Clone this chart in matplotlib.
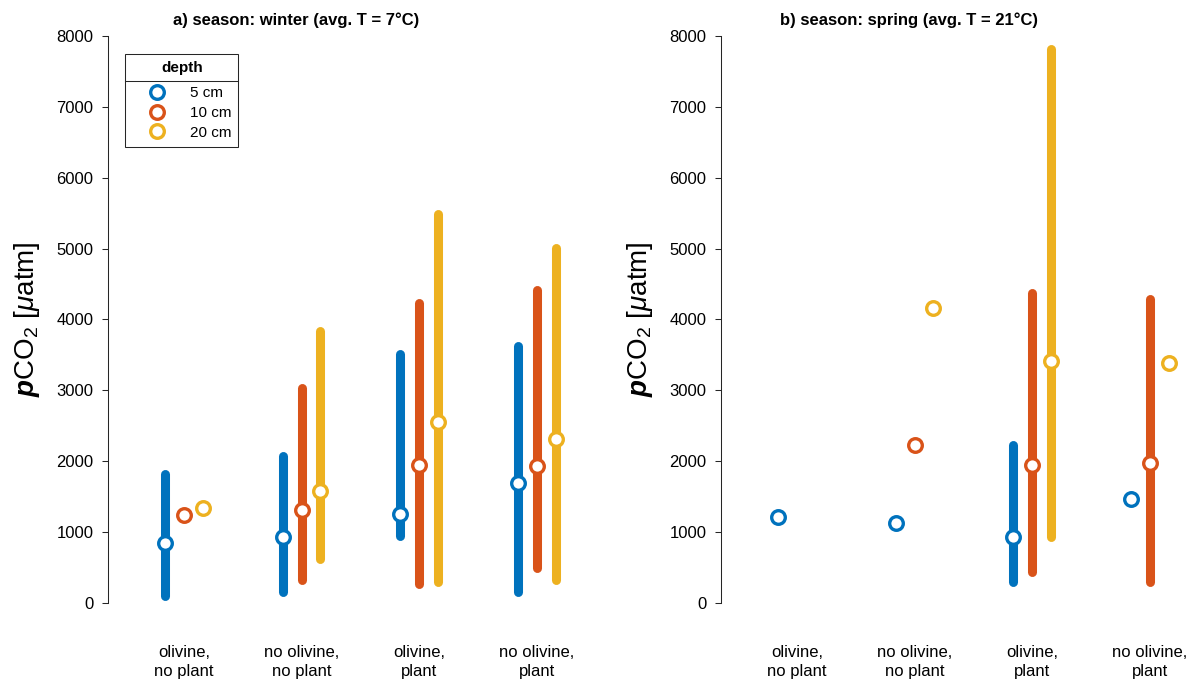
import numpy as np
import matplotlib
matplotlib.use('Agg')
import matplotlib.pyplot as plt
from matplotlib.lines import Line2D

plt.rcParams['font.family'] = ['Liberation Sans', 'DejaVu Sans']
plt.rcParams['mathtext.fontset'] = 'custom'
plt.rcParams['mathtext.rm'] = 'Liberation Sans'
plt.rcParams['mathtext.it'] = 'Liberation Sans:italic'
plt.rcParams['mathtext.bf'] = 'Liberation Sans:italic:bold'

nan = np.nan

treatments = ['olivine,\nno plant', 'no olivine,\nno plant', 'olivine,\nplant', 'no olivine,\nplant']
depths = ['5 cm', '10 cm', '20 cm']
colors = ['#0072BD', '#D95319', '#EDB120']

# winter: rows are depths (5, 10, 20 cm), columns are treatments
winter_low = [[95, 150, 945, 150],
              [nan, 325, 270, 490],
              [nan, 615, 300, 325]]
winter_high = [[1815, 2075, 3510, 3620],
               [nan, 3035, 4230, 4420],
               [nan, 3840, 5485, 5005]]
winter_median = [[840, 925, 1255, 1700],
                 [1235, 1315, 1950, 1940],
                 [1340, 1580, 2560, 2310]]

# spring
spring_low = [[nan, nan, 300, nan],
              [nan, nan, 440, 290],
              [nan, nan, 930, nan]]
spring_high = [[nan, nan, 2230, nan],
               [nan, nan, 4380, 4295],
               [nan, nan, 7815, nan]]
spring_median = [[1210, 1130, 930, 1465],
                 [nan, 2235, 1945, 1975],
                 [nan, 4165, 3420, 3390]]

titles = [u'a) season: winter (avg. T = 7\u00b0C)', u'b) season: spring (avg. T = 21\u00b0C)']
ylabel = r'$\mathbf{p}\mathrm{CO}_{2}$ [$\mu$atm]'
ink = '#262626'

fig = plt.figure(figsize=(11.95, 6.86), dpi=100)
ax_w = fig.add_axes([108 / 1195, 83 / 686, 464 / 1195, 567 / 686])
ax_s = fig.add_axes([721 / 1195, 83 / 686, 464 / 1195, 567 / 686])


def draw_panel(ax, low, high, median, title):
    x = np.arange(1, len(treatments) + 1)
    for i, c in enumerate(colors):
        xi = x + (i - 1) * 0.16
        for j in range(len(x)):
            if not np.isnan(low[i][j]):
                ax.plot([xi[j], xi[j]], [low[i][j], high[i][j]], color=c, lw=6.5,
                        solid_capstyle='round', zorder=2)
        ax.plot(xi, median[i], 'o', ls='none', mfc='white', mec=c, ms=9.8, mew=2.4, zorder=3)

    ax.set_xlim(0.353, 4.3)
    ax.set_ylim(0, 8000)
    ax.set_yticks(np.arange(0, 8001, 1000))
    ax.set_xticks(x)
    ax.set_xticklabels(treatments, fontsize=12, color='black', linespacing=1.4)
    ax.tick_params(axis='x', length=0, pad=30)
    ax.tick_params(axis='y', direction='out', length=4.5, width=0.75, color=ink,
                   labelsize=12, labelcolor='black', pad=6)
    for s in ['top', 'right', 'bottom']:
        ax.spines[s].set_visible(False)
    ax.spines['left'].set_linewidth(0.75)
    ax.spines['left'].set_color(ink)
    ax.set_title(title, fontsize=12, fontweight='bold', x=0.405, pad=8)
    ax.set_ylabel(ylabel, fontsize=20)
    ax.yaxis.set_label_coords(-0.143, 0.5)


draw_panel(ax_w, winter_low, winter_high, winter_median, titles[0])
draw_panel(ax_s, spring_low, spring_high, spring_median, titles[1])

handles = [Line2D([], [], marker='o', ls='none', mfc='white', mec=c, ms=9.8, mew=2.4)
           for c in colors]
leg = ax_w.legend(handles, depths, title='depth', loc='upper left',
                  bbox_to_anchor=(0.037, 0.968), borderaxespad=0, fontsize=11,
                  title_fontsize=11, fancybox=False, framealpha=1, edgecolor=ink,
                  handlelength=3.3, handletextpad=0.5, labelspacing=0.38, borderpad=0.45)
leg.get_title().set_fontweight('bold')
leg.get_frame().set_linewidth(0.75)
# more room between the title and the entries
leg._legend_box.sep = 8

# separator between legend title and entries
fig.canvas.draw()
bb = leg.get_frame().get_window_extent()
t_mid = leg.get_title().get_window_extent()
e_mid = leg.get_texts()[0].get_window_extent()
ty = 0.5 * (0.5 * (t_mid.y0 + t_mid.y1) + 0.5 * (e_mid.y0 + e_mid.y1))
fig.add_artist(Line2D([bb.x0 / fig.bbox.width, bb.x1 / fig.bbox.width],
                      [ty / fig.bbox.height, ty / fig.bbox.height],
                      color=ink, lw=0.75, transform=fig.transFigure))

fig.savefig('out.png', dpi=100)
